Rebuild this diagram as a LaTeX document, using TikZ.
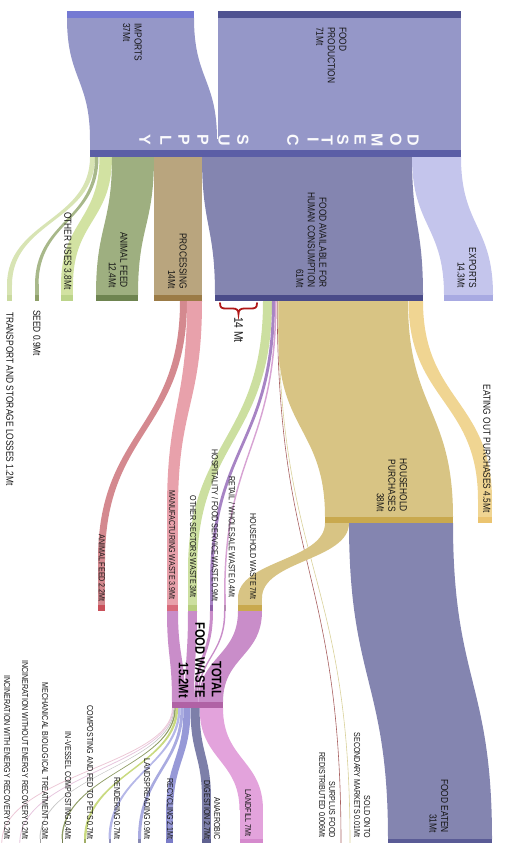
\documentclass[tikz,border=0pt]{standalone}
\usepackage{fontspec}
\setmainfont{Liberation Sans}[FakeStretch=0.82]
\newfontfamily\widefont{Liberation Sans}
\definecolor{supply}{HTML}{9597C8}
\definecolor{impbar}{HTML}{7479D3}
\definecolor{prodbar}{HTML}{4F5291}
\definecolor{dsbar}{HTML}{5B5EA6}
\definecolor{transp}{HTML}{D8E4B4}
\definecolor{transpbar}{HTML}{CADAA0}
\definecolor{seedc}{HTML}{A8B88A}
\definecolor{seedbar}{HTML}{8E9F68}
\definecolor{otheru}{HTML}{D2E2A2}
\definecolor{otherubar}{HTML}{BCD48A}
\definecolor{afeed}{HTML}{9EAF80}
\definecolor{afeedbar}{HTML}{6E8450}
\definecolor{proc}{HTML}{B9A57E}
\definecolor{procbar}{HTML}{9B7B46}
\definecolor{favail}{HTML}{8485B0}
\definecolor{favailbar}{HTML}{4A4B89}
\definecolor{expo}{HTML}{C4C5EC}
\definecolor{expobar}{HTML}{A8AAE2}
\definecolor{hh}{HTML}{D8C484}
\definecolor{hhbar}{HTML}{C9A94E}
\definecolor{eat}{HTML}{F0D592}
\definecolor{eatbar}{HTML}{EBC470}
\definecolor{fe}{HTML}{8485B0}
\definecolor{febar}{HTML}{5A5B96}
\definecolor{manuf}{HTML}{E8A1AB}
\definecolor{manufbar}{HTML}{D86B7B}
\definecolor{aftwo}{HTML}{D4898F}
\definecolor{aftwobar}{HTML}{C9505A}
\definecolor{osw}{HTML}{CCDFA0}
\definecolor{oswbar}{HTML}{B7CE7E}
\definecolor{hosp}{HTML}{A784C4}
\definecolor{hospbar}{HTML}{8E5FA8}
\definecolor{retail}{HTML}{D7A3D3}
\definecolor{tw}{HTML}{C98DC9}
\definecolor{twbar}{HTML}{B062A5}
\definecolor{landf}{HTML}{E3A3DC}
\definecolor{landfbar}{HTML}{D58ACD}
\definecolor{adc}{HTML}{7D7FA9}
\definecolor{adbar}{HTML}{5F6190}
\definecolor{recyc}{HTML}{9799D7}
\definecolor{recycbar}{HTML}{7A7CC8}
\definecolor{lsp}{HTML}{A9ABE0}
\definecolor{rend}{HTML}{B6B8E8}
\definecolor{comp}{HTML}{C9DA80}
\definecolor{invc}{HTML}{8E9C64}
\definecolor{mbt}{HTML}{C6C6C6}
\definecolor{incwo}{HTML}{E6C6DE}
\definecolor{incw}{HTML}{ECC8D6}
\definecolor{surplus}{HTML}{A86060}
\definecolor{sold}{HTML}{D9D19A}
\definecolor{bracec}{HTML}{B01818}
\definecolor{txt}{HTML}{161616}
% S-shaped band: x1a x1b y1 x2a x2b y2 colour
\newcommand{\sband}[7]{\fill[#7] (#1,#3) .. controls (#1,{(#3+#6)/2}) and (#4,{(#3+#6)/2}) .. (#4,#6) -- (#5,#6) .. controls (#5,{(#3+#6)/2}) and (#2,{(#3+#6)/2}) .. (#2,#3) -- cycle;}
% band with explicit control heights: x1a x1b y1 x2a x2b y2 cy1 cy2 colour
\newcommand{\cband}[9]{\fill[#9] (#1,#3) .. controls (#1,#7) and (#4,#8) .. (#4,#6) -- (#5,#6) .. controls (#5,#8) and (#2,#7) .. (#2,#3) -- cycle;}
\tikzset{
  toplab/.style={rotate=-90, inner sep=0pt, text=txt, font=\fontsize{10.2}{11.5}\selectfont},
  smlab/.style={rotate=-90, inner sep=0pt, text=txt, font=\fontsize{8.7}{10}\selectfont},
  biglab/.style={rotate=-90, inner sep=0pt, text=black, font=\bfseries\fontsize{13.7}{16.5}\selectfont},
  dsletter/.style={rotate=-90, inner sep=0pt, text=white!95!supply, font=\widefont\bfseries\fontsize{16}{16}\selectfont},
  thinline/.style={line width=0.6pt},
}
\begin{document}
\begin{tikzpicture}[x=1pt,y=-1pt]
\useasboundingbox (0,0) rectangle (506,843);
% ---------- supply ----------
\cband{67}{194}{18}{90}{217}{140}{79}{79}{supply}
\fill[supply] (90,139) rectangle (217.5,150);
\fill[supply] (218,18) rectangle (461,150);
\fill[impbar] (67,11) rectangle (194,18);
\fill[prodbar] (218,11) rectangle (461,18);
\fill[dsbar] (90,150) rectangle (461,157);
\foreach \c/\x [count=\i] in {D/413,O/396,M/377,E/360,S/343,T/327,I/313,C/293,S/243,U/224,P/203,P/184,L/166,Y/145}
  \node[dsletter] (ds\i) at (\x,140) {\c};
% ---------- level 2 ----------
\sband{90}{95}{157}{7}{12}{285}{transp}
\fill[transp] (7,284) rectangle (12,295);
\sband{95}{98.5}{157}{35}{38.5}{285}{seedc}
\fill[seedc] (35,284) rectangle (38.5,295);
\sband{99.5}{112}{157}{61}{73}{285}{otheru}
\fill[otheru] (61,284) rectangle (73,295);
\sband{112}{154}{157}{96}{138}{295}{afeed}
\fill[proc] (154,157) rectangle (202,295);
\sband{202}{412}{157}{215}{423}{295}{favail}
\sband{412}{461}{157}{444}{493}{295}{expo}
\fill[transpbar] (7,295) rectangle (12,301);
\fill[seedbar] (35,295) rectangle (38.5,301);
\fill[otherubar] (61,295) rectangle (73,301);
\fill[afeedbar] (96,295) rectangle (138,301);
\fill[procbar] (154,295) rectangle (202,301);
\fill[favailbar] (215,295) rectangle (423,301);
\fill[expobar] (444,295) rectangle (493,301);
% ---------- level 3 ----------
\sband{180}{187}{301}{98}{105}{560}{aftwo}
\fill[aftwo] (98,559) rectangle (105,605);
\sband{187}{202}{301}{167}{178}{510}{manuf}
\fill[manuf] (167,509) rectangle (178,605);
\cband{263}{272}{301}{188}{197}{570}{440}{440}{osw}
\fill[osw] (188,569) rectangle (197,605);
\cband{272}{275}{301}{210}{213}{585}{445}{445}{hosp}
\fill[hosp] (210,584) rectangle (213,605);
\cband{275}{276.5}{301}{224}{225.5}{595}{450}{450}{retail}
\fill[retail] (224,594) rectangle (225.5,605);
\draw[surplus, thinline] (277.2,301) .. controls (277.2,570) and (341,570) .. (341,843);
\draw[sold, thinline] (278.2,301) .. controls (278.2,570) and (350,570) .. (350,843);
\fill[hh] (278.5,301) -- (278.5,340) .. controls (278.5,430) and (325,430) .. (325,517) -- (453,517) .. controls (453,409) and (408,409) .. (408,301) -- cycle;
\sband{408.5}{423}{301}{478}{492}{500}{eat}
\fill[eat] (478,499) rectangle (492,517);
\fill[hhbar] (325,517) rectangle (453,523);
\fill[eatbar] (478,517) rectangle (492,523);
% household outflows
\sband{325}{349}{523}{238}{262}{598}{hh}
\fill[hh] (238,597) rectangle (262,605);
\sband{349}{453}{523}{388}{492}{839}{fe}
\fill[febar] (388,839) rectangle (492,843);
% waste bars
\fill[aftwobar] (98,605) rectangle (105,611);
\fill[manufbar] (167,605) rectangle (178,611);
\fill[oswbar] (188,605) rectangle (197,611);
\fill[hospbar] (210,605) rectangle (213,611);
\fill[retail!85!black] (224,605) rectangle (225.5,611);
\fill[hhbar] (238,605) rectangle (262,611);
% ---------- total food waste ----------
\sband{167}{178}{611}{172}{185}{702}{tw}
\sband{188}{197}{611}{185}{194}{702}{tw}
\sband{210}{213}{611}{194}{197}{702}{tw}
\sband{224}{225.5}{611}{197}{198.5}{702}{tw}
\sband{238}{262}{611}{198.5}{223}{702}{tw}
\fill[twbar] (172,702) rectangle (223,708);
% ---------- waste destinations ----------
\cband{199.6}{223}{708}{239.5}{263}{810}{760}{760}{landf}
\fill[landf] (239.5,809) rectangle (263,839);
\cband{190.5}{199.6}{708}{202}{211}{800}{755}{755}{adc}
\fill[adc] (202,799) rectangle (211,839);
\cband{183.5}{190.5}{708}{166}{173}{815}{760}{760}{recyc}
\fill[recyc] (166,814) rectangle (173,839);
\cband{180.5}{183.5}{708}{138}{141}{839}{765}{775}{lsp}
\cband{178.1}{180.5}{708}{108.5}{110.9}{839}{765}{775}{rend}
\cband{175.7}{178.1}{708}{84}{86.4}{839}{765}{775}{comp}
\cband{174.4}{175.7}{708}{61.5}{62.8}{839}{765}{775}{invc}
\cband{173.4}{174.4}{708}{39.5}{40.5}{839}{765}{775}{mbt}
\draw[incwo, line width=0.8pt] (173,708) .. controls (173,765) and (19.8,775) .. (19.8,843);
\draw[incw, line width=0.8pt] (172.4,708) .. controls (172.4,765) and (1.8,775) .. (1.8,843);
\fill[landfbar] (239.5,839) rectangle (263,843);
\fill[adbar] (202,839) rectangle (211,843);
\fill[recycbar] (166,839) rectangle (173,843);
\fill[lsp!80!black] (138,839) rectangle (141,843);
\fill[rend!80!black] (108.5,839) rectangle (110.9,843);
\fill[comp!80!black] (84,839) rectangle (86.4,843);
\fill[invc!80!black] (61.5,839) rectangle (62.8,843);
\fill[mbt!80!black] (39.5,839) rectangle (40.5,843);
% ---------- brace ----------
\draw[bracec, line width=1.8pt, line cap=round] (220,303) .. controls (220,308) and (222,308.5) .. (226,308.5) -- (233,308.5) .. controls (236.5,308.5) and (238.5,310) .. (238.5,314) .. controls (238.5,310) and (240.5,308.5) .. (244,308.5) -- (251,308.5) .. controls (255,308.5) and (257,308) .. (257,303);
\node[rotate=-90, inner sep=0pt, text=txt, font=\fontsize{12.5}{14}\selectfont, anchor=west] (fourteen) at (238.5,317) {14 Mt};
% ---------- labels ----------
\node[toplab, anchor=west, align=left] (limp) at (132.5,23) {IMPORTS\\37Mt};
\node[toplab, anchor=west, align=left] (lprod) at (331.5,27) {FOOD\\PRODUCTION\\71Mt};
\node[toplab, anchor=east] (lother) at (68,290) {OTHER USES 3.8Mt};
\node[toplab, anchor=east, align=right] (lafeed) at (118,288) {ANIMAL FEED\\12.4Mt};
\node[toplab, anchor=east, align=right] (lproc) at (177.5,289) {PROCESSING\\14Mt};
\node[toplab, anchor=east, align=right] (lfav) at (311.5,288) {FOOD AVAILABLE FOR\\HUMAN CONSUMPTION\\61Mt};
\node[toplab, anchor=east, align=right] (lexp) at (467,288) {EXPORTS\\14.3Mt};
\node[toplab, anchor=west] (ltrans) at (10,312) {TRANSPORT AND STORAGE LOSSES 1.2Mt};
\node[toplab, anchor=west] (lseed) at (37,310) {SEED 0.9Mt};
\node[toplab, anchor=east] (leat) at (487,513) {EATING OUT PURCHASES 4.5Mt};
\node[toplab, anchor=east, align=right] (lhhp) at (392,512) {HOUSEHOLD\\PURCHASES\\38Mt};
\node[toplab, anchor=east, align=right] (lfe) at (439,833) {FOOD EATEN\\31Mt};
\node[smlab, anchor=east] (laf2) at (102,602) {ANIMAL FEED 2.2Mt};
\node[smlab, anchor=east] (lman) at (172,600) {MANUFACTURING WASTE 3.9Mt};
\node[smlab, anchor=east] (losw) at (193,598) {OTHER SECTORS WASTE 3Mt};
\node[smlab, anchor=east] (lhosp) at (215,602) {HOSPITALITY / FOOD SERVICE WASTE 0.9Mt};
\node[smlab, anchor=east] (lret) at (232,598) {RETAIL / WHOLESALE WASTE 0.4Mt};
\node[smlab, anchor=east] (lhhw) at (253,600) {HOUSEHOLD WASTE 7Mt};
\node[smlab, anchor=east, align=right] (lsold) at (362,838) {SOLD ONTO\\SECONDARY MARKETS 0.01Mt};
\node[smlab, anchor=east, align=right] (lsur) at (327,838) {SURPLUS FOOD\\REDISTRIBUTED 0.006Mt};
\node[smlab, anchor=east] (llf) at (248,837) {LANDFILL 7Mt};
\node[smlab, anchor=east, align=right] (lad) at (212,840) {ANAEROBIC\\DIGESTION 2.7Mt};
\node[smlab, anchor=east] (lrec) at (170,840) {RECYCLING 2.1Mt};
\node[smlab, anchor=east] (llsp) at (147,840) {LANDSPREADING 0.9Mt};
\node[smlab, anchor=east] (lrend) at (117,840) {RENDERING 0.7Mt};
\node[smlab, anchor=east] (lcomp) at (90,840) {COMPOSTING AND FED TO PETS 0.7Mt};
\node[smlab, anchor=east] (linv) at (68,840) {IN-VESSEL COMPOSTING 0.4Mt};
\node[smlab, anchor=east] (lmbt) at (45,840) {MECHANICAL BIOLOGICAL TREATMENT 0.3Mt};
\node[smlab, anchor=east] (lincwo) at (25,840) {INCINERATION WITHOUT ENERGY RECOVERY 0.2Mt};
\node[smlab, anchor=east] (lincw) at (7,840) {INCINERATION WITH ENERGY RECOVERY 0.2Mt};
\node[biglab, anchor=east, align=right] (ltw) at (200,698) {TOTAL\\FOOD WASTE\\15.2Mt};
\end{tikzpicture}
\end{document}
